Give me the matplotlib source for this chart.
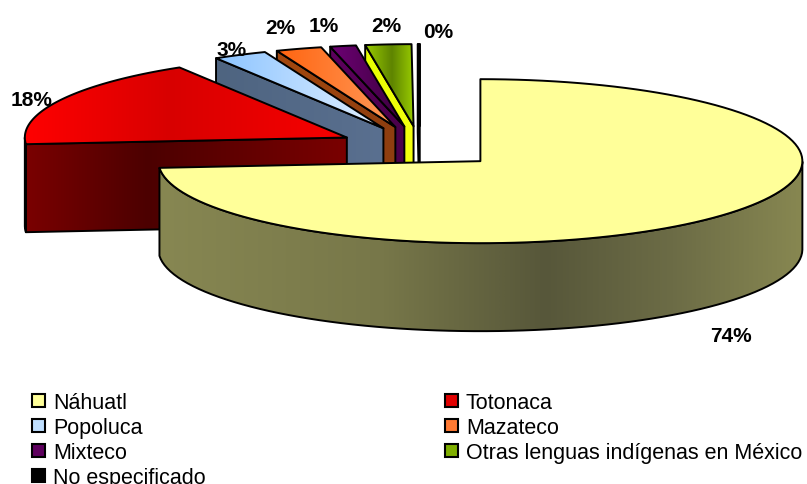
"""
Exploded 3-D pie of indigenous language speakers, drawn by hand on a pixel axes.
"""

import numpy as np
import matplotlib

matplotlib.use("Agg")
import matplotlib.pyplot as plt
from matplotlib.colors import LinearSegmentedColormap
from matplotlib.patches import Polygon, Rectangle

plt.rcParams["font.family"] = ["Liberation Sans", "DejaVu Sans"]

# --- data -------------------------------------------------------------------
labels = ["Náhuatl", "Totonaca", "Popoluca", "Mazateco", "Mixteco",
          "Otras lenguas indígenas en México", "No especificado"]
shares = [73.7, 17.6, 2.7, 2.3, 1.3, 2.3, 0.1]
pct_text = ["74%", "18%", "3%", "2%", "1%", "2%", "0%"]

# --- styling ----------------------------------------------------------------
top_colors = [
    ["#FFFF99"],
    [(0, "#FF0000"), (0.45, "#D80000"), (1, "#F80000")],
    [(0, "#8CC4FF"), (1, "#E2F0FF")],
    [(0, "#FF6410"), (1, "#FF9A5A")],
    [(0, "#6E0075"), (1, "#3A003C")],
    [(0, "#9ACC00"), (0.55, "#5E8400"), (1, "#99CC00")],
    ["#000000"],
]
side_colors = [
    [(0, "#878752"), (0.35, "#777749"), (0.6, "#57573A"), (0.8, "#6C6C46"), (1, "#878751")],
    [(0, "#7A0000"), (0.38, "#4C0000"), (1, "#7A0000")],
    [(0, "#4E6480"), (1, "#5A7090")],
    [(0, "#A4480E"), (1, "#8E3E10")],
    [(0, "#5E005E"), (1, "#4A004A")],
    [(0, "#E6FF00"), (1, "#F4FF10")],
    ["#000000"],
]
legend_colors = ["#FFFF99", "#E00000", "#BFDFFF", "#FF7A33", "#5E005E", "#7FAE00", "#000000"]
label_pos = [(731, 337), (32, 100), (232, 50), (280, 28), (324, 26), (386, 26), (438, 33)]

CX, CY = 420, 148          # pie centre in pixels
RX, RY = 322, 82           # ellipse radii of the top face
DEPTH = 88                 # pie thickness
EXPLODE = 0.255            # explode fraction of radius

fig = plt.figure(figsize=(8.07, 4.85), dpi=100)
ax = fig.add_axes([0, 0, 1, 1])
ax.set_xlim(0, 807)
ax.set_ylim(485, 0)
ax.set_autoscale_on(False)
ax.axis("off")


def rim(cx, cy, t0, t1, n=80):
    t = np.radians(np.linspace(t0, t1, n))
    return np.column_stack([cx + RX * np.cos(t), cy - RY * np.sin(t)])


def fill(verts, colors, z):
    verts = np.asarray(verts)
    poly = Polygon(verts, closed=True, facecolor="none", edgecolor="black",
                   lw=1.4, joinstyle="round", zorder=z + 0.5)
    if len(colors) == 1:
        poly.set_facecolor(colors[0])
        ax.add_patch(poly)
        return
    ax.add_patch(poly)
    cmap = LinearSegmentedColormap.from_list("g", colors)
    x0, y0 = verts.min(0)
    x1, y1 = verts.max(0)
    img = np.linspace(0, 1, 256)[None, :]
    im = ax.imshow(img, cmap=cmap, extent=(x0, x1, y1, y0), origin="upper",
                   aspect="auto", interpolation="bilinear", zorder=z)
    im.set_clip_path(poly)


# slice angles: start at 12 o'clock, clockwise
cum = np.concatenate([[0], np.cumsum(shares)])
theta1 = 90 - cum[:-1] * 3.6
theta0 = 90 - cum[1:] * 3.6
bis = (theta0 + theta1) / 2

order = np.argsort(-np.sin(np.radians(bis)))   # back to front
z = 1
for i in order:
    t0, t1, b = theta0[i], theta1[i], np.radians(bis[i])
    cx = CX + EXPLODE * RX * np.cos(b)
    cy = CY - EXPLODE * RY * np.sin(b)
    down = np.array([0, DEPTH])
    c = np.array([cx, cy])

    # radial cut faces that look towards the viewer
    for t, visible in ((t1, np.cos(np.radians(t1)) < -1e-6),
                       (t0, np.cos(np.radians(t0)) > 1e-6)):
        if visible:
            p = rim(cx, cy, t, t, 1)[0]
            fill([c, p, p + down, c + down], side_colors[i], z)
            z += 1

    # outer wall on the front half
    ts = np.linspace(t0, t1, 600)
    front = ts[np.sin(np.radians(ts)) < 0]
    if len(front) > 1:
        top = rim(cx, cy, front.min(), front.max())
        wall = np.vstack([top, (top + down)[::-1]])
        fill(wall, side_colors[i], z)
        z += 1

    # top face
    face = np.vstack([[c], rim(cx, cy, t0, t1, 120), [c]])
    fill(face, top_colors[i], z)
    z += 1

for txt, (x, y) in zip(pct_text, label_pos):
    ax.text(x, y, txt, ha="center", va="center", fontsize=15,
            fontweight="bold", color="black", zorder=200)

# legend, filled row by row in two columns
for k, (lab, col) in enumerate(zip(labels, legend_colors)):
    lx = [32, 445][k % 2]
    ly = 401.5 + 25.0 * (k // 2)
    ax.add_patch(Rectangle((lx, ly - 6.5), 13, 13, facecolor=col,
                           edgecolor="black", lw=1.5, zorder=200))
    ax.text(lx + 21, ly + 7.5, lab, ha="left", va="baseline",
            fontsize=15.5, color="black", zorder=200)

fig.savefig("out.png", dpi=100, facecolor="white")
